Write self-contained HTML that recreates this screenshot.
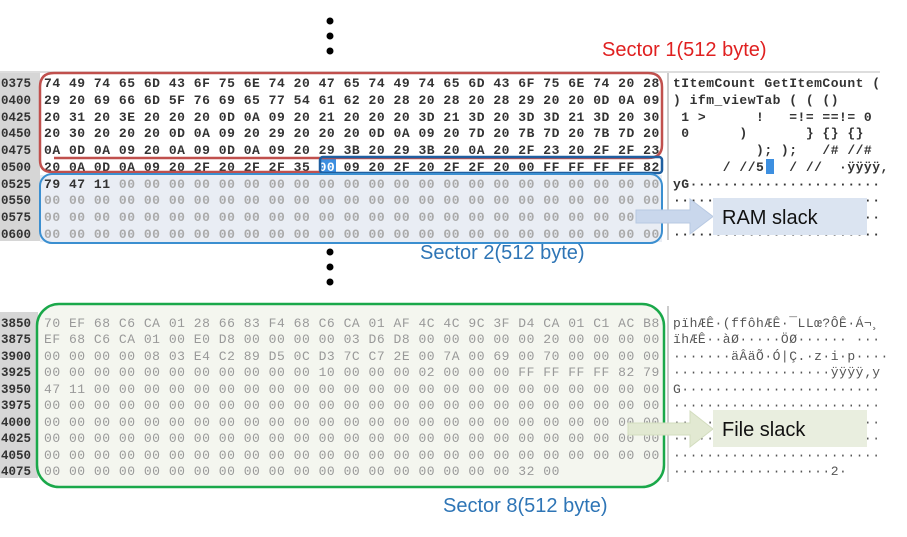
<!DOCTYPE html>
<html><head><meta charset="utf-8"><style>
html,body{margin:0;padding:0;background:#fff;width:907px;height:537px;overflow:hidden}
svg text{white-space:pre}
.h{font-family:"Liberation Mono",monospace;font-size:13px;letter-spacing:0.52px;font-weight:bold}
.a{font-family:"Liberation Mono",monospace;font-size:13px;letter-spacing:0.5px;font-weight:bold}
.o{font-family:"Liberation Mono",monospace;font-size:12.5px;font-weight:bold;fill:#333}
.lbl{font-family:"Liberation Sans","Noto Sans CJK KR",sans-serif;font-size:20px}
</style></head><body>
<svg width="907" height="537" viewBox="0 0 907 537" xmlns="http://www.w3.org/2000/svg">
<circle cx="330" cy="21" r="3.5" fill="#000"/><circle cx="330" cy="36" r="3.5" fill="#000"/><circle cx="330" cy="51" r="3.5" fill="#000"/>
<circle cx="330" cy="252" r="3.5" fill="#000"/><circle cx="330" cy="267" r="3.5" fill="#000"/><circle cx="330" cy="282" r="3.5" fill="#000"/>

<text x="602" y="56" class="lbl" fill="#e02020">Sector 1(512 byte)</text>
<text x="420" y="259" class="lbl" fill="#2e75b6">Sector 2(512 byte)</text>
<text x="443" y="512" class="lbl" fill="#2e75b6">Sector 8(512 byte)</text>

<line x1="0" y1="72" x2="880" y2="72" stroke="#bbb" stroke-width="1"/>
<rect x="0" y="73" width="40" height="168" fill="#d6d6d6"/>
<rect x="40" y="175" width="622" height="67" fill="#e9edf4"/>
<line x1="668" y1="73" x2="668" y2="240" stroke="#999" stroke-width="1"/>
<rect x="319" y="159" width="17" height="15" fill="#3d8fe0"/>
<rect x="766" y="159" width="8" height="15" fill="#3d8fe0"/>
<g class="o">
<text x="1" y="87">0375</text><text x="1" y="104">0400</text><text x="1" y="121">0425</text><text x="1" y="137">0450</text><text x="1" y="154">0475</text><text x="1" y="171">0500</text><text x="1" y="188">0525</text><text x="1" y="204">0550</text><text x="1" y="221">0575</text><text x="1" y="238">0600</text>
</g>
<g class="h" fill="#333">
<text x="44" y="87">74 49 74 65 6D 43 6F 75 6E 74 20 47 65 74 49 74 65 6D 43 6F 75 6E 74 20 28</text>
<text x="44" y="104">29 20 69 66 6D 5F 76 69 65 77 54 61 62 20 28 20 28 20 28 29 20 20 0D 0A 09</text>
<text x="44" y="121">20 31 20 3E 20 20 20 0D 0A 09 20 21 20 20 20 3D 21 3D 20 3D 3D 21 3D 20 30</text>
<text x="44" y="137">20 30 20 20 20 0D 0A 09 20 29 20 20 20 0D 0A 09 20 7D 20 7B 7D 20 7B 7D 20</text>
<text x="44" y="154">0A 0D 0A 09 20 0A 09 0D 0A 09 20 29 3B 20 29 3B 20 0A 20 2F 23 20 2F 2F 23</text>
<text x="44" y="171">20 0A 0D 0A 09 20 2F 20 2F 2F 35 <tspan fill="#fff">00</tspan> 09 20 2F 20 2F 2F 20 00 FF FF FF FF 82</text>
<text x="44" y="188">79 47 11 <tspan fill="#aaa">00 00 00 00 00 00 00 00 00 00 00 00 00 00 00 00 00 00 00 00 00 00</tspan></text>
</g>
<g class="h" fill="#aaa">
<text x="44" y="204">00 00 00 00 00 00 00 00 00 00 00 00 00 00 00 00 00 00 00 00 00 00 00 00 00</text>
<text x="44" y="221">00 00 00 00 00 00 00 00 00 00 00 00 00 00 00 00 00 00 00 00 00 00 00 00 00</text>
<text x="44" y="238">00 00 00 00 00 00 00 00 00 00 00 00 00 00 00 00 00 00 00 00 00 00 00 00 00</text>
</g>
<g class="a" fill="#333">
<text x="673" y="87">tItemCount GetItemCount (</text>
<text x="673" y="104">) ifm_viewTab ( ( ()</text>
<text x="673" y="121"> 1 >      !   =!= ==!= 0</text>
<text x="673" y="137"> 0      )       } {} {}</text>
<text x="673" y="154">          ); );   /# //#</text>
<text x="673" y="171">      / //5   / //  ·ÿÿÿÿ,</text>
<text x="673" y="188">yG·······················</text>
<text x="673" y="204">·························</text>
<text x="673" y="221">·························</text>
<text x="673" y="238">·························</text>
</g>
<path d="M54,73 H648 Q662,73 662,87 V145 Q662,158 648,158 H54" fill="none" stroke="#c0504d" stroke-width="2.5"/>
<path d="M54,73 Q40,73 40,87 V160 Q40,172 52,172 H320" fill="none" stroke="#c0504d" stroke-width="2.5"/>
<rect x="320" y="157" width="342" height="16" rx="3" fill="none" stroke="#1f5fa0" stroke-width="2.5"/>
<rect x="40" y="174" width="622" height="69" rx="12" fill="none" stroke="#3b8fd0" stroke-width="2"/>
<path d="M636,210 H690 V199 L713,216.5 L690,234 V223 H636 Z" fill="#c9d7ec" stroke="#b8c9e2" stroke-width="1"/>
<rect x="713" y="198" width="154" height="37" fill="#dbe4f1"/>
<text x="722" y="224" class="lbl" fill="#111">RAM slack</text>

<rect x="0" y="312" width="38" height="166" fill="#d6d6d6"/>
<rect x="37" y="304" width="627" height="183" rx="22" fill="#f4f6ef"/>
<line x1="668" y1="306" x2="668" y2="482" stroke="#999" stroke-width="1"/>
<g class="o">
<text x="1" y="327">3850</text><text x="1" y="343">3875</text><text x="1" y="360">3900</text><text x="1" y="376">3925</text><text x="1" y="393">3950</text><text x="1" y="409">3975</text><text x="1" y="426">4000</text><text x="1" y="442">4025</text><text x="1" y="459">4050</text><text x="1" y="475">4075</text>
</g>
<g class="h" fill="#999" style="font-weight:normal">
<text x="44" y="327">70 EF 68 C6 CA 01 28 66 83 F4 68 C6 CA 01 AF 4C 4C 9C 3F D4 CA 01 C1 AC B8</text>
<text x="44" y="343">EF 68 C6 CA 01 00 E0 D8 00 00 00 00 03 D6 D8 00 00 00 00 00 20 00 00 00 00</text>
<text x="44" y="360">00 00 00 00 08 03 E4 C2 89 D5 0C D3 7C C7 2E 00 7A 00 69 00 70 00 00 00 00</text>
<text x="44" y="376">00 00 00 00 00 00 00 00 00 00 00 10 00 00 00 02 00 00 00 FF FF FF FF 82 79</text>
<text x="44" y="393">47 11 00 00 00 00 00 00 00 00 00 00 00 00 00 00 00 00 00 00 00 00 00 00 00</text>
<text x="44" y="409">00 00 00 00 00 00 00 00 00 00 00 00 00 00 00 00 00 00 00 00 00 00 00 00 00</text>
<text x="44" y="426">00 00 00 00 00 00 00 00 00 00 00 00 00 00 00 00 00 00 00 00 00 00 00 00 00</text>
<text x="44" y="442">00 00 00 00 00 00 00 00 00 00 00 00 00 00 00 00 00 00 00 00 00 00 00 00 00</text>
<text x="44" y="459">00 00 00 00 00 00 00 00 00 00 00 00 00 00 00 00 00 00 00 00 00 00 00 00 00</text>
<text x="44" y="475">00 00 00 00 00 00 00 00 00 00 00 00 00 00 00 00 00 00 00 32 00</text>
</g>
<g class="a" fill="#555" style="font-weight:normal">
<text x="673" y="327">pïhÆÊ·(ffôhÆÊ·¯LLœ?ÔÊ·Á¬¸</text>
<text x="673" y="343">ïhÆÊ··àØ·····ÖØ······ ···</text>
<text x="673" y="360">·······äÂäÕ·Ó|Ç.·z·i·p····</text>
<text x="673" y="376">···················ÿÿÿÿ‚y</text>
<text x="673" y="393">G························</text>
<text x="673" y="409">·························</text>
<text x="673" y="426">·························</text>
<text x="673" y="442">·························</text>
<text x="673" y="459">·························</text>
<text x="673" y="475">···················2·</text>
</g>
<rect x="37" y="304" width="627" height="183" rx="22" fill="none" stroke="#1aa84a" stroke-width="2.5"/>
<path d="M628,423 H690 V411 L713,429 L690,447 V435 H628 Z" fill="#e2e9d2" stroke="#d3ddbf" stroke-width="1"/>
<rect x="713" y="410" width="154" height="37" fill="#e9eedf"/>
<text x="722" y="436" class="lbl" fill="#111">File slack</text>
</svg>
</body></html>
